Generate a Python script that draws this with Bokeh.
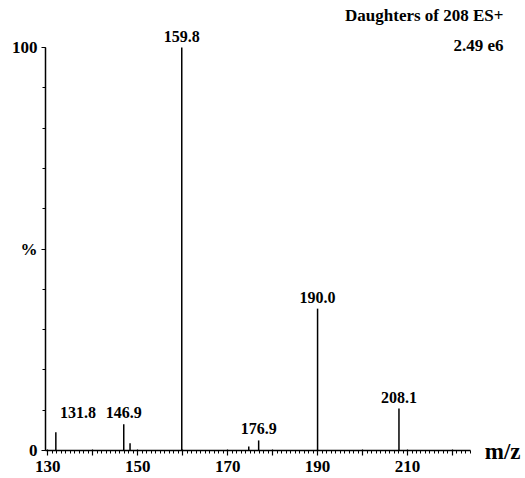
from bokeh.plotting import figure
from bokeh.models import FixedTicker, Range1d, Label, ColumnDataSource
from bokeh.embed import file_html
from bokeh.resources import INLINE
from bokeh.core.properties import value

# Peaks (m/z, relative intensity %)
mz = [131.8, 146.9, 148.3, 159.8, 174.7, 176.9, 190.0, 208.1]
intensity = [4.5, 6.5, 1.8, 100.0, 1.0, 2.5, 35.2, 10.4]

# Annotated peaks
label_text = ["131.8", "146.9", "159.8", "176.9", "190.0", "208.1"]
label_x = [136.7, 146.9, 159.8, 176.9, 190.0, 208.1]
label_level = [6.5, 6.5, 100.0, 2.5, 35.2, 10.4]

x_ticks = [130, 140, 150, 160, 170, 180, 190, 200, 210, 220]
x_tick_labels = ["130", "", "150", "", "170", "", "190", "", "210", ""]
y_ticks = [0, 50, 100]
y_tick_labels = ["0", "%", "100"]

header1 = "Daughters of 208 ES+"
header2 = "2.49 e6"
xlabel = "m/z"

FONT = "Liberation Serif"

W, H = 524, 474
# pixel scale of the data
px_x = 4.497   # px per m/z unit
px_y = 4.03    # px per % unit
x_axis_start, x_axis_end = 129.5, 224
x_start = x_axis_start - 45 / px_x
x_end = x_start + W / px_x
y_start = -(H - 450) / px_y
y_end = y_start + H / px_y

def dx(px):
    return x_start + px / px_x

def dy(py):
    return y_start + (H - py) / px_y

p = figure(width=W, height=H, x_range=Range1d(x_start, x_end),
           y_range=Range1d(y_start, y_end), output_backend="svg",
           toolbar_location=None, min_border=0)
p.outline_line_color = None
p.grid.visible = False
p.background_fill_color = "white"

# axes
p.xaxis.fixed_location = 0
p.yaxis.fixed_location = x_axis_start
p.xaxis.bounds = (x_axis_start, x_axis_end)
p.yaxis.bounds = (0, 100)
p.xaxis.ticker = FixedTicker(ticks=x_ticks, minor_ticks=list(range(130, 225)))
p.xaxis.major_label_overrides = {t: l for t, l in zip(x_ticks, x_tick_labels)}
p.yaxis.ticker = FixedTicker(ticks=y_ticks, minor_ticks=list(range(0, 101, 10)))
p.yaxis.major_label_overrides = {t: l for t, l in zip(y_ticks, y_tick_labels)}
for ax in (p.xaxis, p.yaxis):
    ax.axis_line_width = 1.5
    ax.axis_line_color = "black"
    ax.major_tick_line_color = "black"
    ax.minor_tick_line_color = "black"
    ax.major_tick_line_width = 1.2
    ax.minor_tick_line_width = 1
    ax.major_label_text_font = FONT
    ax.major_label_text_font_style = "bold"
    ax.major_label_text_font_size = "17px"
    ax.major_label_text_color = "black"
p.xaxis.major_tick_out = 5
p.xaxis.major_tick_in = 1
p.xaxis.minor_tick_out = 3
p.xaxis.minor_tick_in = 0
p.xaxis.major_label_standoff = 5
p.yaxis.major_tick_out = 4
p.yaxis.major_tick_in = 0
p.yaxis.minor_tick_out = 3
p.yaxis.minor_tick_in = 0
p.yaxis.major_label_standoff = 4

# peaks
src = ColumnDataSource(dict(x=mz, y=intensity, y0=[0] * len(mz)))
p.segment(x0="x", y0="y0", x1="x", y1="y", source=src, line_color="black", line_width=1.5)

lsrc = ColumnDataSource(dict(x=label_x, y=label_level, t=label_text))
p.text(x="x", y="y", text="t", source=lsrc, text_align="center", text_baseline="bottom",
       y_offset=-6, text_font=value(FONT), text_font_style="bold",
       text_font_size="16px", text_color="black")

# header and axis title
p.add_layout(Label(x=dx(503), y=dy(15), text=header1, text_align="right",
                   text_baseline="middle", text_font=FONT, text_font_style="bold",
                   text_font_size="17px", text_color="black"))
p.add_layout(Label(x=dx(503), y=dy(45), text=header2, text_align="right",
                   text_baseline="middle", text_font=FONT, text_font_style="bold",
                   text_font_size="17px", text_color="black"))
p.add_layout(Label(x=dx(520), y=dy(451), text=xlabel, text_align="right",
                   text_baseline="middle", text_font=FONT, text_font_style="bold",
                   text_font_size="23px", text_color="black"))

open("out.html", "w").write(file_html(p, INLINE))
